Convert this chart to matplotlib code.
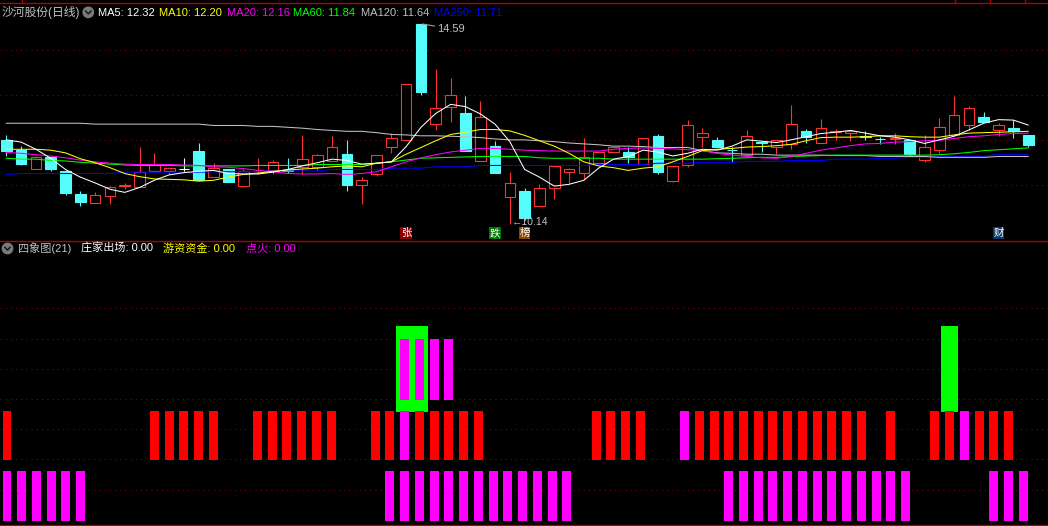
import matplotlib
matplotlib.use('Agg')
import matplotlib.pyplot as plt
import matplotlib.transforms as mtransforms
from matplotlib.patches import Rectangle, Circle
from matplotlib.lines import Line2D

plt.rcParams['font.family'] = ['Liberation Sans', 'Noto Sans CJK SC', 'DejaVu Sans']

W, H = 1048, 526

# ---- daily candles (沙河股份, 70 days) ----
opens = [12.01, 11.78, 11.35, 11.63, 11.32, 10.80, 10.61, 10.77, 10.99, 10.97,
         11.32, 11.32, 11.35, 11.76, 11.19, 11.36, 10.99, 11.31, 11.34, 11.33,
         11.41, 11.41, 11.53, 11.70, 11.00, 11.26, 11.84, 12.01, 14.59, 12.36,
         12.75, 12.61, 11.55, 11.87, 10.73, 10.87, 10.53, 10.93, 11.29, 11.28,
         11.49, 11.73, 11.74, 11.47, 12.10, 11.10, 11.44, 12.08, 12.01, 11.79,
         11.67, 11.97, 11.86, 11.92, 12.21, 11.95, 12.18, 12.17, 12.10, 12.04,
         12.02, 12.01, 11.57, 11.78, 12.12, 12.35, 12.52, 12.24, 12.27, 12.12]
highs = [12.12, 11.87, 11.65, 11.65, 11.34, 10.87, 10.85, 10.99, 11.06, 11.86,
         11.72, 11.41, 11.61, 11.94, 11.49, 11.36, 11.35, 11.60, 11.56, 11.60,
         12.12, 11.69, 12.10, 12.01, 11.18, 11.67, 12.16, 13.25, 14.59, 13.59,
         13.38, 12.98, 12.88, 11.98, 11.29, 10.93, 11.02, 11.42, 11.39, 12.05,
         11.75, 11.86, 11.84, 12.05, 12.13, 11.43, 12.45, 12.27, 12.07, 11.86,
         12.23, 11.98, 12.00, 12.79, 12.25, 12.47, 12.25, 12.24, 12.20, 12.08,
         12.16, 12.01, 12.12, 12.50, 12.99, 12.76, 12.63, 12.39, 12.45, 12.12]
lows = [11.65, 11.45, 11.35, 11.32, 10.79, 10.54, 10.61, 10.59, 10.92, 10.97,
        11.30, 11.25, 11.30, 11.12, 11.19, 11.07, 10.99, 11.26, 11.24, 11.27,
        11.25, 11.34, 11.53, 10.88, 10.59, 11.21, 11.72, 12.01, 13.02, 12.24,
        12.41, 11.76, 11.53, 11.28, 10.14, 10.22, 10.53, 10.70, 11.06, 11.13,
        11.49, 11.73, 11.49, 11.47, 11.26, 11.08, 11.40, 11.86, 11.84, 11.52,
        11.67, 11.75, 11.70, 11.81, 11.95, 11.95, 12.01, 11.99, 12.01, 11.92,
        11.92, 11.64, 11.52, 11.72, 12.12, 12.22, 12.41, 12.09, 12.06, 11.84]
closes = [11.77, 11.47, 11.63, 11.36, 10.83, 10.63, 10.78, 10.96, 11.00, 11.30,
          11.44, 11.38, 11.35, 11.12, 11.39, 11.07, 11.32, 11.32, 11.51, 11.32,
          11.58, 11.67, 11.85, 11.01, 11.11, 11.67, 12.05, 13.25, 13.08, 12.71,
          13.02, 11.76, 12.52, 11.28, 11.04, 10.28, 10.93, 11.42, 11.35, 11.63,
          11.75, 11.86, 11.63, 12.05, 11.30, 11.43, 12.33, 12.16, 11.84, 11.78,
          12.09, 11.93, 12.00, 12.36, 12.08, 12.27, 12.21, 12.21, 12.08, 12.03,
          12.06, 11.69, 11.84, 12.29, 12.56, 12.73, 12.41, 12.33, 12.21, 11.90]

# ---- moving averages ----
ma5 = [12.01, 11.96, 11.80, 11.60, 11.35, 11.18, 11.05, 10.91, 10.84, 10.95,
       11.11, 11.23, 11.28, 11.31, 11.33, 11.26, 11.25, 11.25, 11.29, 11.35,
       11.43, 11.50, 11.58, 11.55, 11.47, 11.49, 11.52, 11.86, 12.29, 12.60,
       12.80, 12.75, 12.59, 12.36, 11.97, 11.35, 11.18, 10.98, 11.02, 11.11,
       11.38, 11.58, 11.64, 11.78, 11.74, 11.65, 11.71, 11.80, 11.78, 11.87,
       12.01, 11.98, 11.95, 12.01, 12.08, 12.15, 12.18, 12.22, 12.16, 12.10,
       12.07, 12.01, 11.93, 12.01, 12.09, 12.23, 12.38, 12.46, 12.45, 12.34]
ma10 = [11.80, 11.80, 11.80, 11.78, 11.72, 11.59, 11.50, 11.39, 11.26, 11.19,
        11.14, 11.13, 11.12, 11.09, 11.11, 11.18, 11.24, 11.27, 11.31, 11.34,
        11.36, 11.38, 11.41, 11.43, 11.41, 11.49, 11.52, 11.69, 11.84, 11.99,
        12.13, 12.18, 12.24, 12.24, 12.21, 12.11, 11.99, 11.87, 11.71, 11.52,
        11.43, 11.39, 11.33, 11.38, 11.41, 11.52, 11.64, 11.77, 11.80, 11.82,
        11.85, 11.86, 11.88, 11.91, 11.99, 12.06, 12.07, 12.07, 12.08, 12.10,
        12.10, 12.08, 12.07, 12.07, 12.12, 12.16, 12.17, 12.18, 12.19, 12.20]
ma20 = [11.73, 11.71, 11.68, 11.65, 11.61, 11.56, 11.52, 11.49, 11.47, 11.46,
        11.46, 11.46, 11.45, 11.44, 11.41, 11.40, 11.37, 11.33, 11.30, 11.26,
        11.25, 11.25, 11.26, 11.24, 11.26, 11.30, 11.41, 11.52, 11.61, 11.68,
        11.74, 11.78, 11.82, 11.82, 11.80, 11.78, 11.77, 11.76, 11.76, 11.76,
        11.76, 11.80, 11.82, 11.83, 11.82, 11.81, 11.79, 11.77, 11.71, 11.67,
        11.64, 11.61, 11.60, 11.64, 11.71, 11.78, 11.83, 11.88, 11.92, 11.93,
        11.96, 11.97, 11.99, 12.00, 12.04, 12.08, 12.10, 12.13, 12.15, 12.16]
ma60 = [11.60, 11.58, 11.58, 11.55, 11.54, 11.51, 11.49, 11.47, 11.45, 11.44,
        11.44, 11.44, 11.43, 11.43, 11.43, 11.43, 11.43, 11.44, 11.44, 11.44,
        11.44, 11.46, 11.46, 11.46, 11.46, 11.49, 11.52, 11.56, 11.60, 11.61,
        11.62, 11.63, 11.64, 11.64, 11.64, 11.64, 11.61, 11.60, 11.60, 11.60,
        11.60, 11.58, 11.58, 11.58, 11.58, 11.58, 11.58, 11.58, 11.59, 11.60,
        11.61, 11.62, 11.62, 11.64, 11.65, 11.66, 11.67, 11.67, 11.67, 11.67,
        11.67, 11.67, 11.67, 11.68, 11.70, 11.73, 11.77, 11.79, 11.81, 11.83]
ma120 = [12.38, 12.38, 12.38, 12.38, 12.38, 12.38, 12.36, 12.36, 12.36, 12.36,
         12.36, 12.36, 12.36, 12.36, 12.33, 12.33, 12.33, 12.31, 12.31, 12.29,
         12.27, 12.24, 12.22, 12.20, 12.20, 12.17, 12.13, 12.12, 12.10, 12.10,
         12.09, 12.08, 12.06, 12.03, 12.01, 12.01, 11.99, 11.97, 11.94, 11.92,
         11.90, 11.87, 11.87, 11.86, 11.84, 11.84, 11.84, 11.77, 11.72, 11.71,
         11.69, 11.69, 11.67, 11.67, 11.67, 11.67, 11.66, 11.66, 11.66, 11.64,
         11.64, 11.64, 11.64, 11.62, 11.62, 11.62, 11.62, 11.64, 11.64, 11.64]
ma250 = [11.24, 11.26, 11.26, 11.26, 11.26, 11.26, 11.26, 11.26, 11.29, 11.29,
         11.29, 11.29, 11.29, 11.29, 11.30, 11.30, 11.30, 11.30, 11.32, 11.32,
         11.32, 11.32, 11.35, 11.35, 11.35, 11.35, 11.38, 11.38, 11.38, 11.41,
         11.41, 11.41, 11.44, 11.44, 11.44, 11.44, 11.44, 11.44, 11.44, 11.44,
         11.46, 11.46, 11.46, 11.46, 11.49, 11.49, 11.49, 11.51, 11.51, 11.51,
         11.53, 11.53, 11.53, 11.55, 11.55, 11.55, 11.58, 11.58, 11.58, 11.60,
         11.60, 11.62, 11.62, 11.64, 11.64, 11.64, 11.64, 11.69, 11.69, 11.69]

ma_names = ['MA5', 'MA10', 'MA20', 'MA60', 'MA120', 'MA250']
ma_last = [12.32, 12.20, 12.16, 11.84, 11.64, 11.71]
ma_colors = ['#ffffff', '#ffff00', '#ff00ff', '#00ff00', '#c0c0c0', '#0000ff']

# event markers under the candles: (day, text, background)
events = [(27, '张', '#8b0000'), (33, '跌', '#007800'), (35, '榜', '#8b4500'), (67, '财', '#0a3a6a')]

# ---- 四象图(21) signals, 1 = bar on that day ----
low_magenta = [1, 1, 1, 1, 1, 1, 0, 0, 0, 0, 0, 0, 0, 0, 0, 0, 0, 0, 0, 0,
               0, 0, 0, 0, 0, 0, 1, 1, 1, 1, 1, 1, 1, 1, 1, 1, 1, 1, 1, 0,
               0, 0, 0, 0, 0, 0, 0, 0, 0, 1, 1, 1, 1, 1, 1, 1, 1, 1, 1, 1,
               1, 1, 0, 0, 0, 0, 0, 1, 1, 1]
mid_red = [1, 0, 0, 0, 0, 0, 0, 0, 0, 0, 1, 1, 1, 1, 1, 0, 0, 1, 1, 1,
           1, 1, 1, 0, 0, 1, 1, 0, 1, 1, 1, 1, 1, 0, 0, 0, 0, 0, 0, 0,
           1, 1, 1, 1, 0, 0, 0, 1, 1, 1, 1, 1, 1, 1, 1, 1, 1, 1, 1, 0,
           1, 0, 0, 1, 1, 0, 1, 1, 1, 0]
mid_magenta = [0] * 27 + [1] + [0] * 18 + [1] + [0] * 18 + [1] + [0] * 4
up_magenta = [0] * 27 + [1, 1, 1, 1] + [0] * 39
up_green = [0] * 27 + [1, 1] + [0] * 35 + [1] + [0] * 5
header2 = [('四象图(21)', '#c0c0c0', 18), ('庄家出场: 0.00', '#ffffff', 81),
           ('游资资金: 0.00', '#ffff00', 163), ('点火: 0.00', '#ff00ff', 246)]

UP = '#ff3232'
DOWN = '#54fcfc'
GRID = '#8a0000'
FRAME = '#b00000'
BODY_W = 0.72

fig = plt.figure(figsize=(W / 100, H / 100), dpi=100, facecolor='black')
# pixel coordinates measured from the top-left corner
px = mtransforms.Affine2D().scale(1 / W, -1 / H).translate(0, 1) + fig.transFigure

# ---------------- price panel ----------------
ax = fig.add_axes([0, 1 - 240 / H, 1, 240 / H])
ax.set_axis_off()
ax.set_xlim(-0.4254, 70.338)
ax.set_ylim(9.7795, 15.1247)
for p in [11, 12, 13, 14]:
    ax.axhline(p, color=GRID, lw=0.75, ls=(0, (1, 4)), zorder=0)

for i in range(len(opens)):
    o, h, l, c = opens[i], highs[i], lows[i], closes[i]
    if c > o:
        ax.vlines(i, c, h, color=UP, lw=0.8, zorder=2)
        ax.vlines(i, l, o, color=UP, lw=0.8, zorder=2)
        ax.add_patch(Rectangle((i - BODY_W / 2, o), BODY_W, c - o, facecolor='black',
                               edgecolor=UP, lw=0.8, zorder=3))
    elif c < o:
        ax.vlines(i, l, h, color=DOWN, lw=0.8, zorder=2)
        ax.add_patch(Rectangle((i - BODY_W / 2, c), BODY_W, o - c, facecolor=DOWN,
                               edgecolor=DOWN, lw=0.8, zorder=3))
    else:
        ax.vlines(i, l, h, color='white', lw=0.8, zorder=2)
        ax.hlines(c, i - BODY_W / 2, i + BODY_W / 2, color='white', lw=0.8, zorder=3)

days = list(range(len(closes)))
for series, col in zip([ma250, ma120, ma60, ma20, ma10, ma5], ma_colors[::-1]):
    ax.plot(days, series, color=col, lw=0.75, zorder=4)

hi = highs.index(max(highs))
lo = lows.index(min(lows))
ax.annotate(f'{highs[hi]:.2f}', xy=(hi + 0.1, highs[hi]), xytext=(15, -5),
            textcoords='offset pixels', ha='left', va='center', color='#c0c0c0', fontsize=8,
            arrowprops=dict(arrowstyle='-', color='#a0a0a0', lw=0.8, shrinkA=0, shrinkB=0))
ax.annotate(f'←{lows[lo]:.2f}', xy=(lo, lows[lo]), xytext=(2, 2),
            textcoords='offset pixels', ha='left', va='center', color='#c0c0c0', fontsize=7.5)

for day, txt, bg in events:
    ax.text(day, 1 - 233 / 240, txt, transform=ax.get_xaxis_transform(),
            ha='center', va='center', color='white', fontsize=7.5,
            bbox=dict(boxstyle='square,pad=0.05', fc=bg, ec='none'))

# ---------------- 四象图 panel ----------------
ax2 = fig.add_axes([0, 0, 1, 285 / H])
ax2.set_axis_off()
ax2.set_xlim(-0.4752, 70.672)
ax2.set_ylim(-0.1, 5.6)
for g in [0.62, 1.24, 1.84, 2.44, 3.04, 3.64, 4.26]:
    ax2.axhline(g, color=GRID, lw=0.75, ls=(0, (1, 4)), zorder=0)


def draw_bars(signal, bottom, top, color, width, z):
    xs = [i for i, s in enumerate(signal) if s]
    ax2.bar(xs, top - bottom, bottom=bottom, width=width, color=color, lw=0, zorder=z)


draw_bars(low_magenta, 0.0, 1.0, '#ff00ff', 0.61, 2)
draw_bars(mid_red, 1.22, 2.2, '#ff0000', 0.61, 2)
draw_bars(mid_magenta, 1.22, 2.2, '#ff00ff', 0.61, 2)
draw_bars(up_green, 2.18, 3.9, '#00ff00', 1.12, 1)
draw_bars(up_magenta, 2.42, 3.64, '#ff00ff', 0.61, 2)

# ---------------- frame lines ----------------
for y in [3, 240.5, 525]:
    fig.add_artist(Line2D([0, W], [y, y], transform=px, color=FRAME, lw=1.0))
for x in [21.7, 955.3, 990.3, 1025.3]:
    fig.add_artist(Line2D([x, x], [0, 3], transform=px, color=FRAME, lw=1.0))

# ---------------- header texts ----------------
fig.text(2, 12.5, '沙河股份(日线)', transform=px, color='#c0c0c0', fontsize=8.5,
         ha='left', va='center')
ma_x = [98, 159, 227, 293, 361, 434]
for name, val, col, x in zip(ma_names, ma_last, ma_colors, ma_x):
    fig.text(x, 12.5, f'{name}: {val:.2f}', transform=px, color=col, fontsize=8,
             ha='left', va='center')

for txt, col, x in header2:
    fig.text(x, 248.5, txt, transform=px, color=col, fontsize=8, ha='left', va='center')

for cx, cy in [(88.3, 12.3), (7.5, 248.5)]:
    fig.add_artist(Circle((cx, cy), 5.2, transform=px, color='#7a7a7a'))
    fig.add_artist(Line2D([cx - 2.6, cx, cx + 2.6], [cy - 1.2, cy + 1.6, cy - 1.2],
                          transform=px, color='#1a1a1a', lw=1.1))

fig.savefig('out.png', dpi=100, facecolor='black')
